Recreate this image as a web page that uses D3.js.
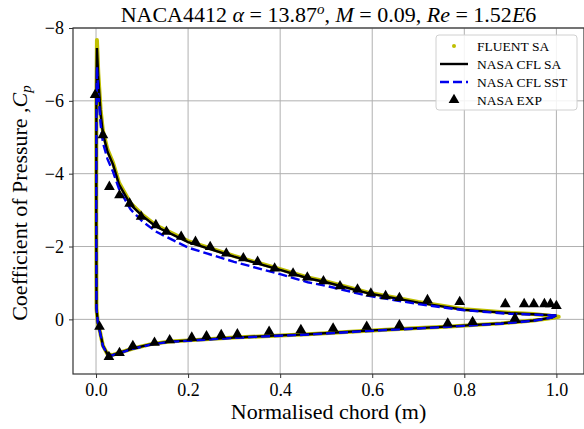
<!DOCTYPE html>
<html>
<head>
<meta charset="utf-8">
<script src="https://d3js.org/d3.v7.min.js"></script>
<style>
  body { margin: 0; background: #fff; }
  svg text { font-family: "Liberation Serif", "DejaVu Serif", serif; fill: #000; }
</style>
</head>
<body>
<svg id="chart" width="584" height="429"></svg>
<script>
// x = normalised chord, cp = pressure coefficient
// each surface listed from leading edge to trailing edge
const saUpper = [[0.002,-7.45],[0.005,-6.6],[0.01,-5.65],[0.015,-5.1],[0.025,-4.6],[0.037,-4.25],[0.05,-3.7],
  [0.075,-3.15],[0.1,-2.85],[0.13,-2.55],[0.2,-2.12],[0.3,-1.72],[0.4,-1.36],[0.46,-1.13],[0.5,-1.02],
  [0.59,-0.72],[0.7,-0.46],[0.8,-0.26],[0.9,-0.17],[0.95,-0.14],[1.0,-0.11]];
const saLower = [[0.002,-7.45],[0.0008,-6.0],[0.0005,-3.0],[0.001,-0.3],[0.004,0.1],[0.008,0.3],[0.015,0.72],
  [0.025,0.96],[0.035,0.98],[0.05,0.92],[0.08,0.8],[0.12,0.68],[0.16,0.61],[0.21,0.57],[0.3,0.5],[0.4,0.44],
  [0.46,0.41],[0.59,0.31],[0.7,0.24],[0.76,0.2],[0.88,0.11],[0.95,0.03],[0.99,-0.05],[1.0,-0.11]];

const sstUpper = [[0.002,-6.94],[0.005,-6.2],[0.01,-5.35],[0.015,-4.85],[0.025,-4.4],[0.037,-4.05],[0.05,-3.58],
  [0.075,-3.02],[0.1,-2.7],[0.13,-2.41],[0.2,-1.97],[0.3,-1.58],[0.4,-1.24],[0.46,-1.02],[0.5,-0.92],
  [0.59,-0.65],[0.7,-0.42],[0.8,-0.25],[0.9,-0.15],[0.95,-0.13],[1.0,-0.11]];
const sstLower = [[0.002,-6.94],[0.0008,-5.5],[0.0005,-3.0],[0.001,-0.3],[0.004,0.1],[0.008,0.32],[0.015,0.74],
  [0.025,0.97],[0.035,0.99],[0.05,0.93],[0.08,0.81],[0.12,0.69],[0.16,0.62],[0.21,0.58],[0.3,0.51],[0.4,0.45],
  [0.46,0.42],[0.59,0.32],[0.7,0.25],[0.76,0.21],[0.88,0.12],[0.95,0.04],[0.99,-0.05],[1.0,-0.11]];

const fluentUpper = [[0.002,-7.67],[0.005,-6.75],[0.01,-5.75],[0.015,-5.17],[0.025,-4.66],[0.037,-4.3],[0.05,-3.75],
  [0.075,-3.19],[0.1,-2.88],[0.13,-2.58],[0.2,-2.15],[0.3,-1.74],[0.4,-1.38],[0.46,-1.15],[0.5,-1.04],
  [0.59,-0.74],[0.7,-0.48],[0.8,-0.28],[0.9,-0.18],[0.95,-0.15],[1.005,-0.07]];
const fluentLower = [[0.002,-7.67],[0.0008,-6.0],[0.0005,-3.0],[0.001,-0.3],[0.004,0.1],[0.008,0.3],[0.015,0.72],
  [0.025,0.96],[0.035,0.98],[0.05,0.92],[0.08,0.8],[0.12,0.68],[0.16,0.61],[0.21,0.57],[0.3,0.5],[0.4,0.44],
  [0.46,0.41],[0.59,0.31],[0.7,0.24],[0.76,0.2],[0.88,0.11],[0.95,0.03],[0.99,-0.04],[1.005,-0.07]];

const expUpper = [[-0.002,-6.16],[0.015,-5.06],[0.029,-3.64],[0.051,-3.41],[0.073,-3.18],[0.098,-2.82],
  [0.13,-2.59],[0.153,-2.41],[0.185,-2.27],[0.216,-2.13],[0.248,-1.99],[0.283,-1.81],[0.32,-1.68],
  [0.351,-1.58],[0.388,-1.4],[0.428,-1.26],[0.459,-1.15],[0.494,-1.05],[0.53,-0.91],[0.568,-0.82],
  [0.597,-0.71],[0.629,-0.64],[0.659,-0.59],[0.72,-0.53],[0.79,-0.48],[0.889,-0.42],[0.93,-0.42],
  [0.951,-0.42],[0.974,-0.42],[0.987,-0.42],[1.0,-0.37]];
const expLower = [[0.0076,0.2],[0.028,1.03],[0.051,0.92],[0.08,0.73],[0.127,0.64],[0.16,0.57],[0.208,0.5],
  [0.24,0.46],[0.272,0.43],[0.307,0.41],[0.376,0.34],[0.445,0.29],[0.515,0.25],[0.588,0.2],[0.659,0.16],
  [0.764,0.11],[0.818,0.07],[0.91,-0.03]];

const xTicks = [0.0, 0.2, 0.4, 0.6, 0.8, 1.0];
const yTicks = [-8, -6, -4, -2, 0];
const legendLabels = ["FLUENT SA", "NASA CFL SA", "NASA CFL SST", "NASA EXP"];

const svg = d3.select("#chart");
const padL = 73, padR = 584, padT = 28, padB = 374;

const x = d3.scaleLinear().domain([-0.05, 1.06]).range([padL, padR]);
const y = d3.scaleLinear().domain([-8, 1.5]).range([padT, padB]);

// grid
svg.append("g").selectAll("line").data(xTicks).enter().append("line")
  .attr("x1", d => x(d)).attr("x2", d => x(d)).attr("y1", padT).attr("y2", padB)
  .attr("stroke", "#b0b0b0").attr("stroke-width", 1);
svg.append("g").selectAll("line").data(yTicks).enter().append("line")
  .attr("x1", padL).attr("x2", padR).attr("y1", d => y(d)).attr("y2", d => y(d))
  .attr("stroke", "#b0b0b0").attr("stroke-width", 1);

const line = d3.line().x(d => x(d[0])).y(d => y(d[1]));
const loop = (up, lo) => up.slice().reverse().concat(lo.slice(1));

const plot = svg.append("g");
plot.append("path").datum(loop(fluentUpper, fluentLower))
  .attr("d", line).attr("fill", "none").attr("stroke", "#bfbf00")
  .attr("stroke-width", 4).attr("stroke-linejoin", "round").attr("stroke-linecap", "round");
plot.append("path").datum(loop(saUpper, saLower))
  .attr("d", line).attr("fill", "none").attr("stroke", "#000").attr("stroke-width", 2.4);
plot.append("path").datum(loop(sstUpper, sstLower))
  .attr("d", line).attr("fill", "none").attr("stroke", "#0000ee").attr("stroke-width", 2.4)
  .attr("stroke-dasharray", "9,4");

const tri = d3.symbol().type(d3.symbolTriangle).size(50);
plot.selectAll(".exp").data(expUpper.concat(expLower)).enter().append("path")
  .attr("class", "exp").attr("d", tri)
  .attr("transform", d => `translate(${x(d[0])},${y(d[1])})`).attr("fill", "#000");

// frame
svg.append("rect").attr("x", padL).attr("y", padT).attr("width", padR - padL).attr("height", padB - padT)
  .attr("fill", "none").attr("stroke", "#333").attr("stroke-width", 1.2);

// axes
const xAxis = svg.append("g").attr("transform", `translate(0,${padB})`)
  .call(d3.axisBottom(x).tickValues(xTicks).tickFormat(d3.format(".1f")).tickSize(4).tickPadding(4));
const yAxis = svg.append("g").attr("transform", `translate(${padL},0)`)
  .call(d3.axisLeft(y).tickValues(yTicks).tickFormat(d => d < 0 ? "\u2212" + Math.abs(d) : d).tickSize(4).tickPadding(5));
[xAxis, yAxis].forEach(a => {
  a.select(".domain").remove();
  a.selectAll("text").style("font-size", "18px").style("font-family", "Liberation Serif, serif");
  a.selectAll("line").attr("stroke", "#333");
});
xAxis.selectAll("text").attr("dy", "0.8em");

// labels
svg.append("text").attr("x", (padL + padR) / 2).attr("y", 419).attr("text-anchor", "middle")
  .style("font-size", "22px").text("Normalised chord (m)");

const yl = svg.append("text").attr("transform", `translate(27,${(padT + padB) / 2 + 2}) rotate(-90)`)
  .attr("text-anchor", "middle").style("font-size", "22px");
yl.append("tspan").text("Coefficient of Pressure ,");
yl.append("tspan").style("font-style", "italic").text("C");
yl.append("tspan").style("font-style", "italic").style("font-size", "15px").attr("dy", 4).text("p");

const title = svg.append("text").attr("x", (padL + padR) / 2).attr("y", 22).attr("text-anchor", "middle")
  .style("font-size", "22px");
title.append("tspan").text("NACA4412 ");
title.append("tspan").style("font-style", "italic").text("\u03b1");
title.append("tspan").text(" = 13.87");
title.append("tspan").style("font-style", "italic").style("font-size", "15px").attr("dy", -8).text("o");
title.append("tspan").attr("dy", 8).text(", ");
title.append("tspan").style("font-style", "italic").text("M");
title.append("tspan").text(" = 0.09, ");
title.append("tspan").style("font-style", "italic").text("Re");
title.append("tspan").text(" = 1.52");
title.append("tspan").style("font-style", "italic").text("E");
title.append("tspan").text("6");

// legend
const lg = svg.append("g");
lg.append("rect").attr("x", 436).attr("y", 35).attr("width", 141).attr("height", 75).attr("rx", 3)
  .attr("fill", "#fff").attr("fill-opacity", 0.85).attr("stroke", "#d0d0d0");
const rowY = i => 46 + i * 18;
lg.append("circle").attr("cx", 454).attr("cy", rowY(0)).attr("r", 2).attr("fill", "#bfbf00");
lg.append("line").attr("x1", 440).attr("x2", 468).attr("y1", rowY(1)).attr("y2", rowY(1))
  .attr("stroke", "#000").attr("stroke-width", 2.4);
lg.append("line").attr("x1", 440).attr("x2", 468).attr("y1", rowY(2)).attr("y2", rowY(2))
  .attr("stroke", "#0000ee").attr("stroke-width", 2.4).attr("stroke-dasharray", "9,4");
lg.append("path").attr("d", tri).attr("transform", `translate(454,${rowY(3)})`).attr("fill", "#000");
lg.selectAll(".lt").data(legendLabels).enter().append("text").attr("class", "lt")
  .attr("x", 477).attr("y", (d, i) => rowY(i) + 5).style("font-size", "13.5px").text(d => d);
</script>
</body>
</html>
